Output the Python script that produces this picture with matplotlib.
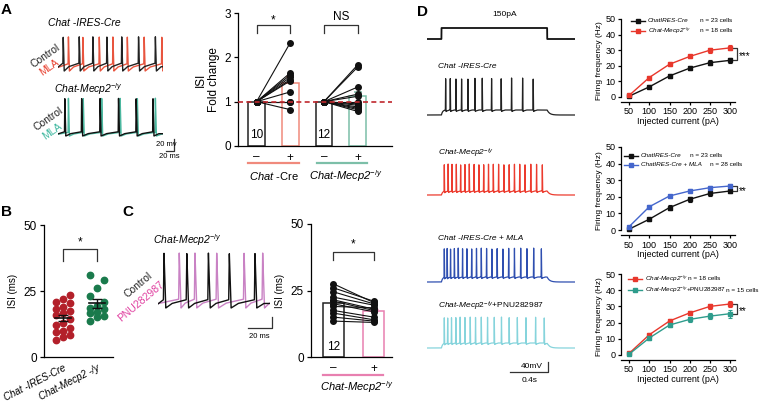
import numpy as np
import matplotlib
matplotlib.use("Agg")
import matplotlib.pyplot as plt
from matplotlib.lines import Line2D

plt.rcParams['font.family'] = ['Liberation Sans', 'DejaVu Sans']
plt.rcParams['mathtext.fontset'] = 'custom'
plt.rcParams['mathtext.rm'] = 'Liberation Sans'
plt.rcParams['mathtext.it'] = 'Liberation Sans:italic'
plt.rcParams['mathtext.bf'] = 'Liberation Sans:bold'
plt.rcParams['axes.linewidth'] = 0.9
plt.rcParams['xtick.major.width'] = 0.9
plt.rcParams['ytick.major.width'] = 0.9

W, H = 764, 408

# ======================= DATA =======================
# Panel A traces: spike times (ms)
a_cre_ctrl_spikes = [13, 53, 87, 122, 159, 201, 243]
a_cre_mla_spikes = [26, 62, 103, 137, 173, 215, 259]
a_mecp_ctrl_spikes = [17, 59, 105, 151, 195, 237]
a_mecp_mla_spikes = [26, 63, 109, 155, 198, 243]

# Panel A bars: ISI fold change (control = 1)
a_cre_fold = [2.33, 1.65, 1.60, 1.55, 1.50, 1.47, 1.22, 1.0, 1.0, 0.82]
a_mecp_fold = [1.83, 1.78, 1.33, 1.17, 1.12, 1.0, 0.95, 0.92, 0.88, 0.85, 0.82, 0.78]
a_cell_counts = [10, 12]
a_tick_labels = ['\u2013', '+', '\u2013', '+']
a_sig = ['*', 'NS']

# Panel B: ISI (ms)
b_categories = ['Chat -IRES-Cre', 'Chat-Mecp2 -/y']
b_cre_isi = [23.5, 22, 21, 20.5, 19, 18, 17.5, 16.5, 16, 14.5, 13, 12, 11, 10, 9.5, 8.5, 7.5, 6.5]
b_mecp_isi = [31, 29, 26, 23, 21, 19.5, 18.5, 18, 17, 16.5, 15.5, 15, 13.5]

# Panel C traces: spike times (ms)
c_ctrl_spikes = [5, 24, 42, 59.4, 80.8]
c_pnu_spikes = [17.7, 30.8, 48.9, 71.7, 87.2]
# Panel C bars: ISI (ms) paired
c_ctrl_isi = [27.5, 26, 24.5, 22.5, 21.5, 21, 20, 19, 17.5, 16.5, 15, 13.5]
c_pnu_isi = [20.5, 21, 20, 19.5, 18, 17.5, 17, 18.5, 15, 14, 13.5, 13]
c_cell_count = 12

# Panel D traces: 150 pA step, spike times (s)
d_step_amp = 150
d_step_on, d_step_off = 0.15, 1.25
d_cre_spikes = [0.194, 0.242, 0.301, 0.360, 0.426, 0.499, 0.575, 0.672, 0.772, 0.880, 0.995, 1.105]
d_mecp_spikes = [0.18, 0.22, 0.26, 0.305, 0.35, 0.395, 0.44, 0.49, 0.54, 0.59, 0.64, 0.69,
                 0.745, 0.80, 0.855, 0.91, 0.965, 1.02, 1.08, 1.14, 1.20]
d_mla_spikes = [0.18, 0.21, 0.245, 0.285, 0.325, 0.37, 0.415, 0.465, 0.515, 0.565, 0.62,
                0.675, 0.73, 0.79, 0.85, 0.91, 0.975, 1.04, 1.11, 1.19]
d_pnu_spikes = [0.18, 0.215, 0.255, 0.30, 0.345, 0.395, 0.45, 0.505, 0.565, 0.63, 0.70,
                0.775, 0.855, 0.94, 1.03, 1.13, 1.22]

# Panel D F-I curves
currents = [50, 100, 150, 200, 250, 300]
freq_cre = [0.5, 6.5, 13.5, 18.5, 22.0, 23.5]
err_cre = [0.3, 1.0, 1.3, 1.4, 1.4, 1.5]
freq_mecp = [1.0, 12.5, 21.0, 26.0, 30.0, 31.5]
err_mecp = [0.4, 1.2, 1.3, 1.2, 1.5, 1.6]
freq_mla = [2.0, 14.0, 20.5, 23.5, 25.5, 26.5]
err_mla = [0.4, 0.8, 0.8, 0.9, 1.0, 1.1]
freq_pnu = [0.5, 10.5, 18.5, 22.0, 24.0, 25.5]
err_pnu = [0.3, 1.0, 1.3, 1.5, 1.8, 2.5]

# ======================= COLOURS =======================
RED_TR = '#e8553f'
RED_BAR = '#f08a7c'
RED_DASH = '#c0282d'
GRN_TR = '#4cb8a0'
GRN_BAR = '#7cbfa8'
B_RED = '#b3202a'
B_GRN = '#1a7a4c'
PINK_TR = '#c982c4'
PINK_TXT = '#e040a0'
PINK_BAR = '#e880b0'
D_RED = '#ec3b2e'
D_BLUE = '#2f4fb0'
D_CYAN = '#86d4dc'
F_RED = '#e8372c'
F_BLUE = '#4466cc'
F_TEAL = '#2e9c8c'

fig = plt.figure(figsize=(W / 100, H / 100), dpi=100, facecolor='white')


def box(x0, y0, x1, y1):
    return [x0 / W, 1 - y1 / H, (x1 - x0) / W, (y1 - y0) / H]


def ptext(x, y, s, **kw):
    kw.setdefault('ha', 'center')
    kw.setdefault('va', 'center')
    return fig.text(x / W, 1 - y / H, s, **kw)


def pline(xs, ys, **kw):
    fig.add_artist(Line2D([x / W for x in xs], [1 - y / H for y in ys], **kw))


def trace_axes(x0, x1, t0, t1, ref_px, v_ref, per_px, top_px, bot_px):
    ax = fig.add_axes(box(x0, top_px, x1, bot_px))
    ax.set_xlim(t0, t1)
    ax.set_ylim(v_ref - (bot_px - ref_px) * per_px, v_ref + (ref_px - top_px) * per_px)
    ax.axis('off')
    return ax


def isi_trace(t, spikes, v_trough, v_th, v_peak, rise, fall):
    kt = [t[0]]
    kv = [v_trough + 0.5 * (v_th - v_trough)]
    for i, s in enumerate(spikes):
        kt += [s - rise, s, s + fall]
        kv += [v_th, v_peak, v_trough]
        nxt = spikes[i + 1] if i + 1 < len(spikes) else s + (s - spikes[i - 1])
        gap = nxt - rise - (s + fall)
        kt.append(s + fall + 0.3 * gap)
        kv.append(v_trough + 0.55 * (v_th - v_trough))
    return np.interp(t, kt, kv)


def step_trace(t, spikes, on, off, v_rest, v_plat, v_peak, ahp):
    v = np.full_like(t, v_rest, dtype=float)
    dur = (t >= on) & (t < off)
    v[dur] = v_rest + (v_plat - v_rest) * (1 - np.exp(-(t[dur] - on) / 0.012))
    aft = t >= off
    v[aft] = v_rest + (v_plat - v_rest) * np.exp(-(t[aft] - off) / 0.025)
    for s in spikes:
        v += np.interp(t, [s - 0.003, s, s + 0.004, s + 0.012, s + 0.04],
                       [0, v_peak - v_plat, -ahp, -ahp * 0.6, 0])
    return v


def style_axes(ax, fs=8.5):
    for sp in ['top', 'right']:
        ax.spines[sp].set_visible(False)
    ax.tick_params(labelsize=fs, length=3, pad=2)


# ======================= PANEL LETTERS =======================
for lx, ly, lt in [(6, 10, 'A'), (6, 212, 'B'), (128, 212, 'C'), (423, 12, 'D')]:
    ptext(lx, ly, lt, fontsize=11, fontweight='bold')

# ======================= PANEL A TRACES =======================
ptext(84, 23, 'Chat -IRES-Cre', fontsize=7.5, style='italic')
ptext(88, 89, 'Chat-Mecp2$^{-/y}$', fontsize=7.5, style='italic')

ta = np.linspace(0, 262, 4000)
axa1 = trace_axes(58, 163, 0, 262, 71, -60, 20 / 12, 30, 78)
axa1.plot(ta, isi_trace(ta, a_cre_mla_spikes, -60, -48, -3, 0.8, 2.5), color=RED_TR, lw=1.0)
axa1.plot(ta, isi_trace(ta, a_cre_ctrl_spikes, -60, -47, -3, 0.8, 2.5), color='#222222', lw=1.0)
ptext(45, 56, 'Control', fontsize=7.5, rotation=35, color='#222222')
ptext(49, 67, 'MLA', fontsize=7.5, rotation=35, color='#e8402f')

ta2 = np.linspace(0, 262, 4000)
axa2 = trace_axes(58, 163, 0, 262, 136, -60, 20 / 12, 93, 160)
axa2.plot(ta2, isi_trace(ta2, a_mecp_mla_spikes, -60, -54, 3, 0.8, 2.5), color=GRN_TR, lw=1.0)
axa2.plot(ta2, isi_trace(ta2, a_mecp_ctrl_spikes, -60, -53, 3, 0.8, 2.5), color='#111111', lw=1.0)
ptext(48, 119, 'Control', fontsize=7.5, rotation=35, color='#222222')
ptext(52, 131, 'MLA', fontsize=7.5, rotation=35, color='#3fb8a0')
# scale bar (20 mV / 20 ms)
axa2.plot([270, 290, 290], [-85, -85, -65], color='#333333', lw=0.9, clip_on=False)
ptext(166, 144, '20 mv', fontsize=5.5)
ptext(169, 157, '20 ms', fontsize=5.5)

# ======================= PANEL A BARS =======================
axA = fig.add_axes(box(237.7, 13, 392, 146))
style_axes(axA, 8.5)
xa = np.arange(4)
a_means = [1.0, np.mean(a_cre_fold), 1.0, np.mean(a_mecp_fold)]
a_sems = [0, np.std(a_cre_fold, ddof=1) / np.sqrt(len(a_cre_fold)), 0,
          np.std(a_mecp_fold, ddof=1) / np.sqrt(len(a_mecp_fold))]
a_edges = ['#222222', RED_BAR, '#222222', GRN_BAR]
axA.bar(xa, a_means, width=0.5, facecolor='white', edgecolor=a_edges, linewidth=1.1, zorder=1)
for i in [1, 3]:
    axA.errorbar(xa[i], a_means[i], yerr=[[0], [a_sems[i]]], color=a_edges[i], capsize=3,
                 lw=1.1, capthick=1.1, zorder=2)
for v in a_cre_fold:
    axA.plot([0, 1], [1, v], color='#111111', lw=0.8, marker='o', ms=4, zorder=4)
for v in a_mecp_fold:
    axA.plot([2, 3], [1, v], color='#111111', lw=0.8, marker='o', ms=4, zorder=4)
axA.axhline(1, color=RED_DASH, ls=(0, (3, 2)), lw=1.2, zorder=5)
axA.set_xlim(-0.56, 4.02)
axA.set_ylim(0, 3)
axA.set_yticks([0, 1, 2, 3])
axA.set_xticks(xa)
axA.set_xticklabels(a_tick_labels, fontsize=8.5)
axA.tick_params(axis='x', length=0, pad=4)
axA.set_ylabel('ISI\nFold change', fontsize=8.5, labelpad=3, linespacing=1.1)
axA.text(0, 0.25, str(a_cell_counts[0]), ha='center', va='center', fontsize=8.5)
axA.text(2, 0.25, str(a_cell_counts[1]), ha='center', va='center', fontsize=8.5)
for g, s in enumerate(a_sig):
    x0, x1 = 2 * g, 2 * g + 1
    axA.plot([x0, x0, x1, x1], [2.55, 2.73, 2.73, 2.55], color='#333333', lw=0.9, clip_on=False)
    axA.text((x0 + x1) / 2, 2.84 if s == '*' else 2.9, s, ha='center', va='center', fontsize=8.5)
pline([248, 299], [163, 163], color=RED_BAR, lw=1.6)
pline([317, 367], [163, 163], color=GRN_BAR, lw=1.6)
ptext(274, 176, r'$\mathit{Chat}$ -Cre', fontsize=8)
ptext(346, 176, 'Chat-Mecp2$^{-/y}$', fontsize=8, style='italic')

# ======================= PANEL B =======================
axB = fig.add_axes(box(44, 225, 113, 357))
style_axes(axB, 8.5)


def swarm_offsets(vals, step):
    order = np.argsort(vals)
    pattern = [-step, 0.0, step]
    off = np.zeros(len(vals))
    for k, idx in enumerate(order):
        off[idx] = pattern[k % 3]
    return off


for i, (vals, col) in enumerate([(b_cre_isi, B_RED), (b_mecp_isi, B_GRN)]):
    vals = np.array(vals)
    axB.plot(i + swarm_offsets(vals, 0.2), vals, 'o', color=col, ms=4.6, zorder=3)
    m = vals.mean()
    se = vals.std(ddof=1) / np.sqrt(len(vals))
    axB.plot([i - 0.24, i + 0.24], [m, m], color='#111111', lw=1.2, zorder=4)
    axB.errorbar(i, m, yerr=se, color='#111111', capsize=3.5, lw=1.0, capthick=1.0, zorder=4)
axB.set_xlim(-0.56, 1.47)
axB.set_ylim(0, 50)
axB.set_yticks([0, 25, 50])
axB.set_xticks([0, 1])
axB.set_xticklabels(b_categories, rotation=27, ha='right',
                    rotation_mode='anchor', fontsize=7, style='italic')
axB.tick_params(axis='x', length=0, pad=4)
axB.set_ylabel('ISI (ms)', fontsize=7, labelpad=4)
axB.plot([0, 0, 1, 1], [36.5, 40.8, 40.8, 36.5], color='#333333', lw=0.9, clip_on=False)
axB.text(0.5, 43.5, '*', ha='center', va='center', fontsize=8.5)

# ======================= PANEL C TRACES =======================
ptext(187, 240, 'Chat-Mecp2$^{-/y}$', fontsize=7.5, style='italic')
tc = np.linspace(0, 93.3, 3000)
axc = trace_axes(158, 270, 0, 93.3, 308, -60, 20 / 11, 248, 312)
axc.plot(tc, isi_trace(tc, c_pnu_spikes, -60, -44, 40, 0.5, 1.5), color=PINK_TR, lw=1.0)
axc.plot(tc, isi_trace(tc, c_ctrl_spikes, -60, -45, 40, 0.5, 1.5), color='#111111', lw=1.0)
axc.plot([75, 95, 95], [-96.4, -96.4, -76.4], color='#333333', lw=0.9, clip_on=False)
ptext(259, 336, '20 ms', fontsize=5.5)
ptext(138, 285, 'Control', fontsize=7.5, rotation=40, color='#222222')
ptext(141, 301, 'PNU282987', fontsize=7.5, rotation=40, color=PINK_TXT)

# ======================= PANEL C BARS =======================
axC = fig.add_axes(box(311, 224, 392, 357))
style_axes(axC, 8.5)
c_means = [np.mean(c_ctrl_isi), np.mean(c_pnu_isi)]
c_sem = np.std(c_pnu_isi, ddof=1) / np.sqrt(len(c_pnu_isi))
axC.bar([0, 1], c_means, width=0.525, facecolor='white', edgecolor=['#222222', PINK_BAR],
        linewidth=1.1, zorder=1)
axC.errorbar(1, c_means[1], yerr=[[0], [c_sem]], color=PINK_BAR, capsize=3, lw=1.1, zorder=2)
for a, b in zip(c_ctrl_isi, c_pnu_isi):
    axC.plot([0, 1], [a, b], color='#111111', lw=0.8, marker='o', ms=4, zorder=4)
axC.set_xlim(-0.56, 1.46)
axC.set_ylim(0, 50)
axC.set_yticks([0, 25, 50])
axC.set_xticks([0, 1])
axC.set_xticklabels(['\u2013', '+'], fontsize=8.5)
axC.tick_params(axis='x', length=0, pad=4)
axC.set_ylabel('ISI (ms)', fontsize=7, labelpad=4)
axC.text(0, 3.8, str(c_cell_count), ha='center', va='center', fontsize=8.5)
axC.plot([0, 0, 1, 1], [36.5, 39.5, 39.5, 36.5], color='#333333', lw=0.9, clip_on=False)
axC.text(0.5, 42.5, '*', ha='center', va='center', fontsize=8.5)
pline([323, 383], [375, 375], color=PINK_BAR, lw=1.6)
ptext(357, 387, 'Chat-Mecp2$^{-/y}$', fontsize=8, style='italic')

# ======================= PANEL D TRACES =======================
td = np.linspace(0, 1.54, 6000)
axs = trace_axes(427, 575, 0, 1.54, 39, 0, d_step_amp / 11, 22, 45)
step_i = np.where((td >= d_step_on) & (td < d_step_off), d_step_amp, 0)
axs.plot(td, step_i, color='#111111', lw=1.3)
ptext(505, 15, '150pA', fontsize=6)

MVPP = 4.0
d_specs = [
    (d_cre_spikes, 115, -65, -45, 83, '#222222', 'Chat -IRES-Cre', 67),
    (d_mecp_spikes, 195, -65, -49, 59, D_RED, 'Chat-Mecp2$^{-/y}$', 153),
    (d_mla_spikes, 282, -65, -45, 71, D_BLUE, 'Chat -IRES-Cre + MLA', 238),
    (d_pnu_spikes, 348, -65, -45, 59, D_CYAN,
     r'$\mathit{Chat}$-$\mathit{Mecp2}^{-/y}$+PNU282987', 306),
]
last_ax = None
for spikes, base_px, vr, vp, vk, col, lab, lab_y in d_specs:
    axd = trace_axes(427, 575, 0, 1.54, base_px, vr, MVPP, base_px - 42, base_px + 8)
    axd.plot(td, step_trace(td, spikes, d_step_on, d_step_off, vr, vp, vk, 6), color=col, lw=0.9)
    if lab.startswith('$'):
        ptext(438, lab_y, lab, fontsize=6, ha='left')
    else:
        ptext(438, lab_y, lab, fontsize=6, ha='left', style='italic')
    last_ax = axd
# scale bar 40 mV / 0.4 s
last_ax.plot([0.863, 1.263, 1.263], [-65 - 24 * MVPP, -65 - 24 * MVPP, -65 - 24 * MVPP + 40],
             color='#333333', lw=0.9, clip_on=False)
ptext(532, 366, '40mV', fontsize=6)
ptext(530, 381, '0.4s', fontsize=6)

# ======================= PANEL D F-I CURVES =======================


def freq_axes(top_px, zero_px, series, legend, sig, sig_text):
    ppu = (zero_px - top_px) / 50.0
    bot = zero_px + 3 * ppu
    ax = fig.add_axes(box(621, top_px, 735, bot))
    style_axes(ax, 6.5)
    for y, e, c in series:
        ax.errorbar(currents, y, yerr=e, color=c, marker='s', ms=2.3, lw=1.0, capsize=1.5,
                    elinewidth=0.8, capthick=0.8, clip_on=False)
    ax.set_xlim(30, 312)
    ax.set_ylim(-3, 50)
    ax.set_xticks(currents)
    ax.set_yticks([0, 10, 20, 30, 40, 50])
    ax.spines['left'].set_bounds(0, 50)
    ax.tick_params(length=2.5, pad=1.5)
    ax.set_xlabel('Injected current (pA)', fontsize=6.5, labelpad=0.5)
    ax.set_ylabel('Firing frequency (Hz)', fontsize=6, labelpad=1.5)
    for (ly, lx0, lab, nx, ntxt, c, italic) in legend:
        pline([lx0, lx0 + 14], [ly, ly], color=c, lw=1.0)
        pline([lx0 + 7], [ly], color=c, marker='s', ms=2.3, lw=0)
        if italic:
            ptext(lx0 + 17, ly, lab, fontsize=4.6, ha='left', style='italic')
        else:
            ptext(lx0 + 17, ly, lab, fontsize=4.6, ha='left')
        ptext(nx, ly, ntxt, fontsize=4.6, ha='left')
    y_hi, y_lo = sig
    ax.plot([306, 318, 318, 306], [y_hi, y_hi, y_lo, y_lo], color='#333333', lw=0.9, clip_on=False)
    ax.text(322, (y_hi + y_lo) / 2 - 1.5, sig_text, ha='left', va='center', fontsize=7)
    return ax


freq_axes(19, 97,
          [(freq_cre, err_cre, '#111111'), (freq_mecp, err_mecp, F_RED)],
          [(21, 631, 'ChatIRES-Cre', 700, 'n = 23 cells', '#111111', True),
           (30.5, 631, 'Chat-Mecp2$^{-/y}$', 700, 'n = 18 cells', F_RED, True)],
          (freq_mecp[-1], freq_cre[-1]), '***')

freq_axes(147, 230,
          [(freq_cre, err_cre, '#111111'), (freq_mla, err_mla, F_BLUE)],
          [(155.5, 624, 'ChatIRES-Cre', 690, 'n = 23 cells', '#111111', True),
           (165, 624, 'ChatIRES-Cre + MLA', 710, 'n = 28 cells', F_BLUE, True)],
          (freq_mla[-1], freq_cre[-1]), '**')

freq_axes(274, 355,
          [(freq_mecp, err_mecp, F_RED), (freq_pnu, err_pnu, F_TEAL)],
          [(279, 628, 'Chat-Mecp2$^{-/y}$', 688, 'n = 18 cells', F_RED, True),
           (290, 628, r'$\mathit{Chat}$-$\mathit{Mecp2}^{-/y}$+PNU282987', 726, 'n = 15 cells',
            F_TEAL, False)],
          (freq_mecp[-1], freq_pnu[-1]), '**')

fig.savefig('out.png', dpi=100, facecolor='white')
